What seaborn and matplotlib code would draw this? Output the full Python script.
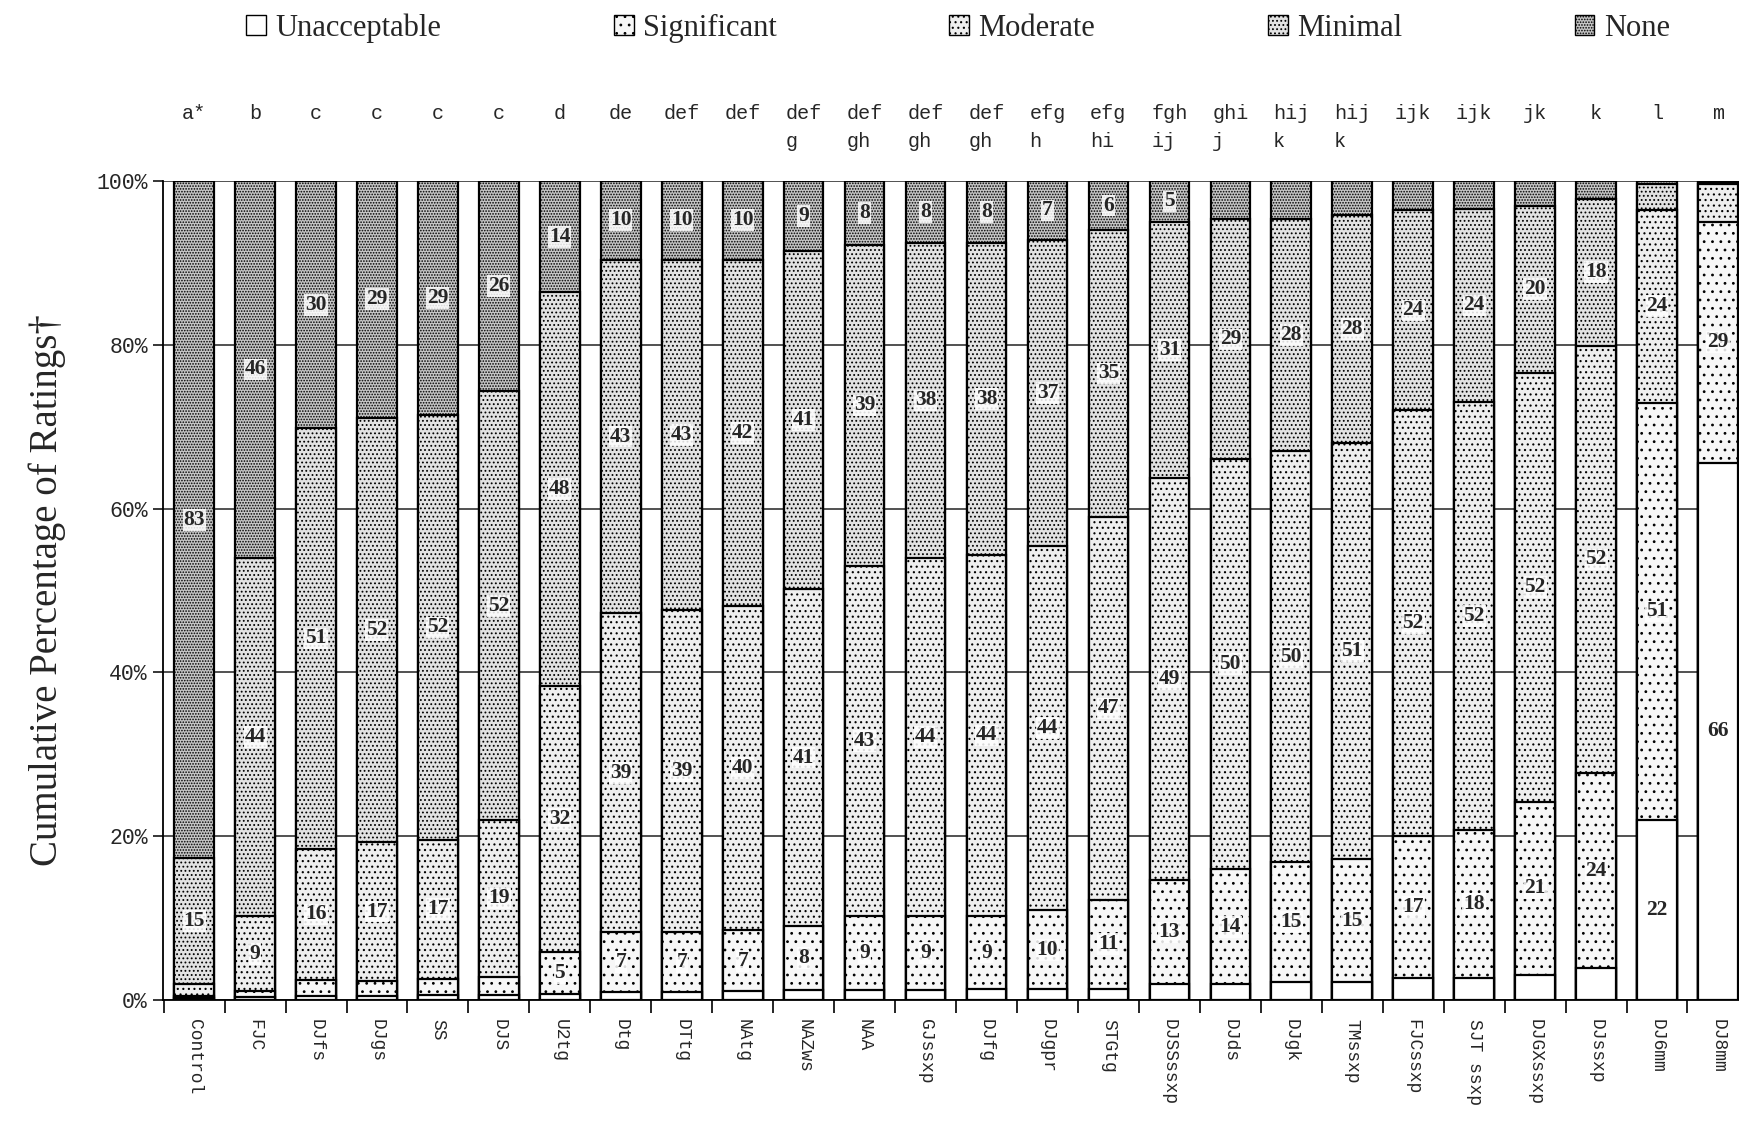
import matplotlib
matplotlib.use("Agg")
import pandas as pd
import matplotlib.pyplot as plt
from matplotlib.patches import Patch
from matplotlib.ticker import PercentFormatter, FixedLocator
import seaborn as sns

# ==========================================
# DATA (percent of ratings per product)
# ==========================================
products = ["Control", "FJC", "DJfs", "DJgs", "SS", "DJS", "U2tg", "Dtg", "DTtg", "NAtg",
            "NAZws", "NAA", "GJssxp", "DJfg", "DJgpr", "STGtg", "DJSSssxp", "DJds", "DJgk",
            "TMssxp", "FJCssxp", "SJT ssxp", "DJGXssxp", "DJssxp", "DJ6mm", "DJ8mm"]

groups = ["a*", "b", "c", "c", "c", "c", "d", "de", "def", "def", "def\ng", "def\ngh",
          "def\ngh", "def\ngh", "efg\nh", "efg\nhi", "fgh\nij", "ghi\nj", "hij\nk", "hij\nk",
          "ijk", "ijk", "jk", "k", "l", "m"]

unacceptable = [0.2, 0.4, 0.5, 0.5, 0.6, 0.6, 0.7, 1.0, 1.0, 1.1, 1.2, 1.2, 1.2,
                1.3, 1.3, 1.4, 1.9, 1.9, 2.2, 2.2, 2.7, 2.7, 3.1, 3.9, 22.0, 65.6]
significant = [0.3, 0.7, 1.9, 1.8, 2.0, 2.2, 5.2, 7.3, 7.3, 7.4, 7.8, 9.0, 9.1,
               9.0, 9.7, 10.8, 12.7, 14.1, 14.6, 15.0, 17.3, 18.0, 21.1, 23.8, 50.9, 29.4]
moderate = [1.5, 9.1, 16.1, 17.0, 17.0, 19.2, 32.4, 38.9, 39.3, 39.6, 41.2, 42.8, 43.7,
            44.0, 44.4, 46.8, 49.1, 50.0, 50.2, 50.8, 52.0, 52.3, 52.4, 52.2, 23.6, 4.6]
minimal = [15.3, 43.8, 51.3, 51.8, 51.8, 52.3, 48.1, 43.2, 42.8, 42.3, 41.2, 39.2, 38.4,
           38.1, 37.4, 35.0, 31.3, 29.3, 28.4, 27.8, 24.4, 23.6, 20.4, 17.9, 3.1, 0.3]
none = [82.7, 46.0, 30.2, 28.9, 28.6, 25.7, 13.6, 9.6, 9.6, 9.6, 8.6, 7.8, 7.6,
        7.6, 7.2, 6.0, 5.0, 4.7, 4.6, 4.2, 3.6, 3.4, 3.0, 2.2, 0.4, 0.1]

categories = ["Unacceptable", "Significant", "Moderate", "Minimal", "None"]

# fill colour + dot hatch for each rating (scanned grey-dot look)
STYLES = {
    "Unacceptable": ("white", ""),
    "Significant": ("#f7f7f7", ".."),
    "Moderate": ("#eeeeee", "..."),
    "Minimal": ("#e2e2e2", "...."),
    "None": ("#c6c6c6", "......"),
}

df = pd.DataFrame({"Unacceptable": unacceptable, "Significant": significant,
                   "Moderate": moderate, "Minimal": minimal, "None": none},
                  index=products)
cum = df.cumsum(axis=1)

# ==========================================
# PLOT
# ==========================================
sns.set_theme(style="white")
plt.rcParams["font.family"] = ["Liberation Serif", "DejaVu Serif"]
plt.rcParams["hatch.linewidth"] = 0.8

fig = plt.figure(figsize=(17.4, 11.22), dpi=100)
ax = fig.add_axes([0.0937, 0.1087, 0.9115, 0.730])

# cumulative bars drawn tallest first, each one covering the lower part of the last
for cat in reversed(categories):
    fc, hatch = STYLES[cat]
    sns.barplot(x=products, y=cum[cat].values, order=products, color=fc, saturation=1,
                hatch=hatch, edgecolor="black", linewidth=1.6, width=0.65,
                errorbar=None, ax=ax, zorder=3)

# segment values
for i, p in enumerate(products):
    base = 0.0
    for cat in categories:
        v = df.loc[p, cat]
        if v >= 4.95:
            ax.text(i, base + v / 2, f"{v:.0f}", ha="center", va="center",
                    fontsize=15.5, fontweight="bold", family="Liberation Serif", zorder=5,
                    bbox=dict(facecolor="white", edgecolor="none", pad=0.6, alpha=0.85))
        base += v

# significance letters above bars
for i, g in enumerate(groups):
    ax.text(i, 109.4, g, ha="center", va="top", multialignment="left",
            fontsize=14.5, family="Liberation Mono", linespacing=1.6, clip_on=False)

ax.set_xlim(-0.51, len(products) - 0.49)
ax.set_ylim(0, 100)
ax.yaxis.set_major_locator(FixedLocator([0, 20, 40, 60, 80, 100]))
ax.yaxis.set_major_formatter(PercentFormatter(decimals=0))
ax.grid(axis="y", color="#222222", linewidth=1.1)
ax.grid(axis="x", visible=False)
ax.set_axisbelow(True)

ax.set_xlabel("")
ax.set_ylabel("Cumulative Percentage of Ratings\u2020", fontsize=28, labelpad=22)
ax.tick_params(axis="x", which="major", length=0, pad=14)
ax.set_xticks(range(len(products)))
ax.set_xticklabels(products, rotation=270, ha="center", va="top",
                   fontsize=13, family="Liberation Mono")
ax.set_xticks([i + 0.5 for i in range(-1, len(products))], minor=True)
ax.tick_params(axis="x", which="minor", length=9, width=1.2, color="black", direction="out",
               bottom=True)
ax.tick_params(axis="y", length=7, width=1.1, color="black", direction="out", left=True, pad=4)
for lab in ax.get_yticklabels():
    lab.set_family("Liberation Mono")
    lab.set_fontsize(15.5)

for side in ["top", "right"]:
    ax.spines[side].set_visible(False)
for side in ["left", "bottom"]:
    ax.spines[side].set_color("black")
    ax.spines[side].set_linewidth(1.3)

handles = [Patch(facecolor=STYLES[c][0], hatch=STYLES[c][1], edgecolor="black",
                 linewidth=1.0, label=c) for c in categories]
fig.legend(handles=handles, loc="center", bbox_to_anchor=(0.5506, 0.975), ncol=5,
           frameon=False, fontsize=22, handlelength=0.65, handleheight=0.65,
           handletextpad=0.3, columnspacing=5.65)

plt.savefig("out.png", dpi=100, facecolor="white")
plt.close()
